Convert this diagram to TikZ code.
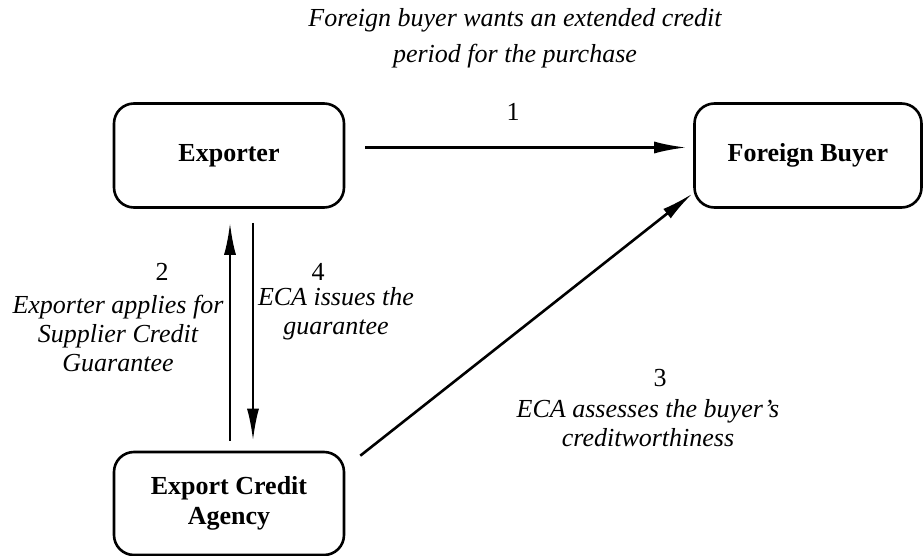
\documentclass[tikz,border=0pt]{standalone}
\usepackage{fontspec}
\setmainfont{Liberation Serif}
\usetikzlibrary{positioning, arrows.meta}

\begin{document}
\begin{tikzpicture}[x=1pt, y=-1pt, on grid, line width=2.6pt,
    >={Latex[length=32pt,width=12pt]},
    party/.style={draw, rounded corners=20pt, minimum width=230pt, minimum height=104pt,
      align=center, font=\fontsize{26}{30}\selectfont\bfseries},
    numtxt/.style={font=\fontsize{26}{30}\selectfont},
    steptxt/.style={align=center, font=\fontsize{26}{29}\selectfont\itshape}]
  \useasboundingbox (0,0) rectangle (924,556);

  % the three parties
  \node[party] (exp) at (229,155.5) {Exporter};
  \node[party, minimum width=227pt] (fb) [right=579pt of exp] {Foreign Buyer};
  \node[party, minimum height=103pt] (eca) [below=348pt of exp] {Export Credit\\Agency};

  % texts of the steps
  \node[steptxt, font=\fontsize{26}{36}\selectfont\itshape] (intro) at (515,38) {Foreign buyer wants an extended credit\\period for the purchase};
  \node[numtxt] (n1) at (513,112) {1};
  \node[numtxt] (n2) at (162,272) {2};
  \node[steptxt] (t2) at (118,333) {Exporter applies for\\Supplier Credit\\Guarantee};
  \node[numtxt] (n4) at (318,272) {4};
  \node[steptxt] (t4) at (336,314) {ECA issues the\\guarantee};
  \node[numtxt] (n3) at (660,378) {3};
  \node[steptxt] (t3) at (648,423) {ECA assesses the buyer’s\\creditworthiness};

  % arrows between the parties
  \draw[->, shorten <=20pt, shorten >=7pt] ([yshift=8pt]exp.east) -- ([yshift=8pt]fb.west);  % step 1
  \draw[->, shorten <=10pt, shorten >=14pt] ([xshift=1pt]eca.north) -- ([xshift=1pt]exp.south);  % step 2
  \draw[->, shorten <=14pt, shorten >=10pt] ([xshift=24pt]exp.south) -- ([xshift=24pt]eca.north);  % step 4
  \draw[->] ([xshift=15pt,yshift=-5pt]eca.north east) -- ([xshift=-1pt,yshift=15pt]fb.south west);  % step 3
\end{tikzpicture}
\end{document}
